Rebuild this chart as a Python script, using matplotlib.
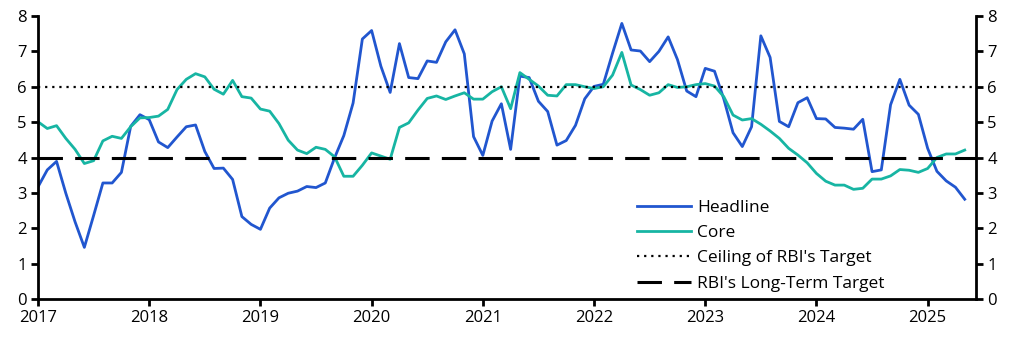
import numpy as np
import matplotlib.pyplot as plt

# Monthly CPI inflation, % y/y, Jan 2017 - May 2025
headline = [
    3.17, 3.65, 3.89, 2.99, 2.18, 1.46, 2.36, 3.28, 3.28, 3.58, 4.88, 5.21,  # 2017
    5.07, 4.44, 4.28, 4.58, 4.87, 4.92, 4.17, 3.69, 3.70, 3.38, 2.33, 2.11,  # 2018
    1.97, 2.57, 2.86, 2.99, 3.05, 3.18, 3.15, 3.28, 3.99, 4.62, 5.54, 7.35,  # 2019
    7.59, 6.58, 5.84, 7.22, 6.26, 6.23, 6.73, 6.69, 7.27, 7.61, 6.93, 4.59,  # 2020
    4.06, 5.03, 5.52, 4.23, 6.30, 6.26, 5.59, 5.30, 4.35, 4.48, 4.91, 5.66,  # 2021
    6.01, 6.07, 6.95, 7.79, 7.04, 7.01, 6.71, 7.00, 7.41, 6.77, 5.88, 5.72,  # 2022
    6.52, 6.44, 5.66, 4.70, 4.31, 4.87, 7.44, 6.83, 5.02, 4.87, 5.55, 5.69,  # 2023
    5.10, 5.09, 4.85, 4.83, 4.80, 5.08, 3.60, 3.65, 5.49, 6.21, 5.48, 5.22,  # 2024
    4.26, 3.61, 3.34, 3.16, 2.82,                                            # 2025
]
core = [
    5.01, 4.82, 4.90, 4.54, 4.23, 3.83, 3.91, 4.47, 4.60, 4.54, 4.87, 5.12,
    5.13, 5.17, 5.36, 5.92, 6.21, 6.37, 6.28, 5.93, 5.79, 6.18, 5.72, 5.68,
    5.37, 5.31, 4.96, 4.49, 4.21, 4.11, 4.29, 4.23, 4.02, 3.47, 3.47, 3.78,
    4.13, 4.04, 3.95, 4.85, 4.98, 5.34, 5.67, 5.74, 5.64, 5.74, 5.83, 5.65,
    5.65, 5.86, 6.00, 5.38, 6.40, 6.21, 6.02, 5.76, 5.74, 6.06, 6.06, 6.00,
    5.95, 6.00, 6.33, 6.97, 6.05, 5.92, 5.76, 5.83, 6.06, 5.98, 6.00, 6.06,
    6.09, 6.02, 5.72, 5.20, 5.06, 5.10, 4.94, 4.75, 4.54, 4.26, 4.07, 3.85,
    3.55, 3.33, 3.22, 3.22, 3.10, 3.13, 3.39, 3.39, 3.48, 3.66, 3.64, 3.58,
    3.69, 4.00, 4.10, 4.10, 4.21,
]
ceiling = 6
long_term_target = 4
years = list(range(2017, 2026))

t = 2017 + np.arange(len(headline)) / 12

plt.rcParams['font.family'] = ['Open Sans', 'DejaVu Sans']

fig = plt.figure(figsize=(10.11, 3.45), dpi=100)
ax = fig.add_axes([0.0376, 0.1333, 0.9278, 0.8203])

ax.plot(t, headline, color='#2156cf', lw=2.0, label='Headline')
ax.plot(t, core, color='#17b5a3', lw=2.0, label='Core')
ax.axhline(ceiling, color='black', lw=1.6, ls=(0, (1, 2.2)), label="Ceiling of RBI's Target")
ax.axhline(long_term_target, color='black', lw=2.2, ls=(0, (8, 4)), label="RBI's Long-Term Target")

ax.set_xlim(2017, 2025.435)
ax.set_ylim(0, 8)
ax.set_xticks(years)
ax.set_xticklabels([str(y) for y in years])
ax.set_yticks(range(0, 9))

for s in ['left', 'right', 'bottom']:
    ax.spines[s].set_linewidth(2)
ax.spines['top'].set_visible(False)
ax.tick_params(axis='both', direction='out', width=2, length=5, labelsize=12, pad=3)
ax.tick_params(axis='y', right=True, labelright=True)

leg = ax.legend(loc='upper left', bbox_to_anchor=(0.6386, 0.350), frameon=False,
                fontsize=12.5, handlelength=3.1, handletextpad=0.35,
                labelspacing=0.52, borderaxespad=0, borderpad=0)

fig.savefig('out.png', dpi=100)
